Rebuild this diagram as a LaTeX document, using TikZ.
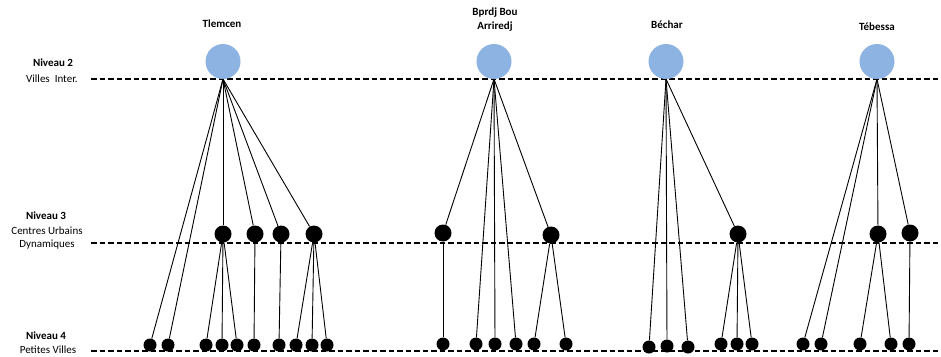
\documentclass[tikz,border=0pt]{standalone}
\usepackage{fontspec}
\setmainfont{Carlito}
\definecolor{cityblue}{HTML}{8DB3E2}
\begin{document}
\begin{tikzpicture}[x=1pt,y=-1pt,
  lvlline/.style={draw=black,line width=1.1pt,dash pattern=on 5.5pt off 3pt},
  bigcity/.style={circle,fill=cityblue,draw=none,minimum size=35pt,inner sep=0pt},
  lthree/.style={circle,fill=black,draw=none,minimum size=17pt,inner sep=0pt},
  lfour/.style={circle,fill=black,draw=none,minimum size=13pt,inner sep=0pt},
  link/.style={draw=black,line width=0.9pt},
  lbl/.style={font=\fontsize{11}{14}\selectfont,align=center,inner sep=0pt},
  blbl/.style={font=\fontsize{11}{14}\selectfont\bfseries,align=center,inner sep=0pt}]
\useasboundingbox (0,0) rectangle (941,356);
% level lines
\coordinate (l2a) at (91,79); \coordinate (l2b) at (941,79);
\coordinate (l3a) at (91,243); \coordinate (l3b) at (941,243);
\coordinate (l4a) at (91,351); \coordinate (l4b) at (941,351);
\draw[lvlline] (l2a) -- (l2b);
\draw[lvlline] (l3a) -- (l3b);
\draw[lvlline] (l4a) -- (l4b);
% left labels
\node[blbl] (n2) at (53,63) {Niveau 2};
\node[lbl] (v2) at (52,79) {Villes\ \ Inter.};
\node[blbl] (n3) at (46,216) {Niveau 3};
\node[lbl] (v3) at (47,231) {Centres Urbains};
\node[lbl] (v3b) at (47,245) {Dynamiques};
\node[blbl] (n4) at (46,336) {Niveau 4};
\node[lbl] (v4) at (48,350) {Petites Villes};
% city names
\node[blbl] (tn) at (222,24) {Tlemcen};
\node[blbl] (bn) at (495,20) {Bprdj Bou\\Arriredj};
\node[blbl] (cn) at (667,25) {Béchar};
\node[blbl] (en) at (877,27) {Tébessa};
% level 2 circles
\node[bigcity] (T) at (223,61.5) {};
\node[bigcity] (B) at (494,61.5) {};
\node[bigcity] (C) at (666,61.5) {};
\node[bigcity] (E) at (877,61.5) {};
\coordinate (Ta) at (223,79);
\coordinate (Ba) at (494,79);
\coordinate (Ca) at (666,79);
\coordinate (Ea) at (877,79);
% level 3 nodes
\node[lthree] (t1) at (223,234) {};
\node[lthree] (t2) at (255,234) {};
\node[lthree] (t3) at (281,234) {};
\node[lthree] (t4) at (314,234) {};
\node[lthree] (b1) at (443,233) {};
\node[lthree] (b2) at (551,235) {};
\node[lthree] (c1) at (738,234) {};
\node[lthree] (e1) at (878,234) {};
\node[lthree] (e2) at (910,233) {};
% level 4 nodes
\node[lfour] (ta) at (150,345) {};
\node[lfour] (tb) at (168,345) {};
\node[lfour] (tc) at (206,345) {};
\node[lfour] (td) at (222,345) {};
\node[lfour] (te) at (237,345) {};
\node[lfour] (tf) at (254,345) {};
\node[lfour] (tg) at (279,345) {};
\node[lfour] (th) at (296,345) {};
\node[lfour] (ti) at (312,345) {};
\node[lfour] (tj) at (327,345) {};
\node[lfour] (ba) at (443,344) {};
\node[lfour] (bb) at (476,344) {};
\node[lfour] (bc) at (495,344) {};
\node[lfour] (bd) at (516,344) {};
\node[lfour] (be) at (534,344) {};
\node[lfour] (bf) at (566,344) {};
\node[lfour] (ca) at (649,347) {};
\node[lfour] (cb) at (667,346) {};
\node[lfour] (cc) at (688,347) {};
\node[lfour] (cd) at (721,344) {};
\node[lfour] (ce) at (737,344) {};
\node[lfour] (cf) at (752,344) {};
\node[lfour] (ea) at (803,344) {};
\node[lfour] (eb) at (821,344) {};
\node[lfour] (ec) at (860,344) {};
\node[lfour] (ed) at (891,344) {};
\node[lfour] (ee) at (909,344) {};
% Tlemcen links
\draw[link] (Ta) -- (ta); \draw[link] (Ta) -- (tb);
\draw[link] (Ta) -- (t1); \draw[link] (Ta) -- (t2);
\draw[link] (Ta) -- (t3); \draw[link] (Ta) -- (t4);
\draw[link] (t1) -- (tc); \draw[link] (t1) -- (td); \draw[link] (t1) -- (te);
\draw[link] (t2) -- (tf);
\draw[link] (t3) -- (tg);
\draw[link] (t4) -- (th); \draw[link] (t4) -- (ti); \draw[link] (t4) -- (tj);
% Bordj links
\draw[link] (Ba) -- (b1); \draw[link] (Ba) -- (bb);
\draw[link] (Ba) -- (bc); \draw[link] (Ba) -- (bd);
\draw[link] (Ba) -- (b2);
\draw[link] (b1) -- (ba);
\draw[link] (b2) -- (be); \draw[link] (b2) -- (bf);
% Bechar links
\draw[link] (Ca) -- (ca); \draw[link] (Ca) -- (cb);
\draw[link] (Ca) -- (cc); \draw[link] (Ca) -- (c1);
\draw[link] (c1) -- (cd); \draw[link] (c1) -- (ce); \draw[link] (c1) -- (cf);
% Tebessa links
\draw[link] (Ea) -- (ea); \draw[link] (Ea) -- (eb);
\draw[link] (Ea) -- (e1); \draw[link] (Ea) -- (e2);
\draw[link] (e1) -- (ec); \draw[link] (e1) -- (ed);
\draw[link] (e2) -- (ee);
\end{tikzpicture}
\end{document}
